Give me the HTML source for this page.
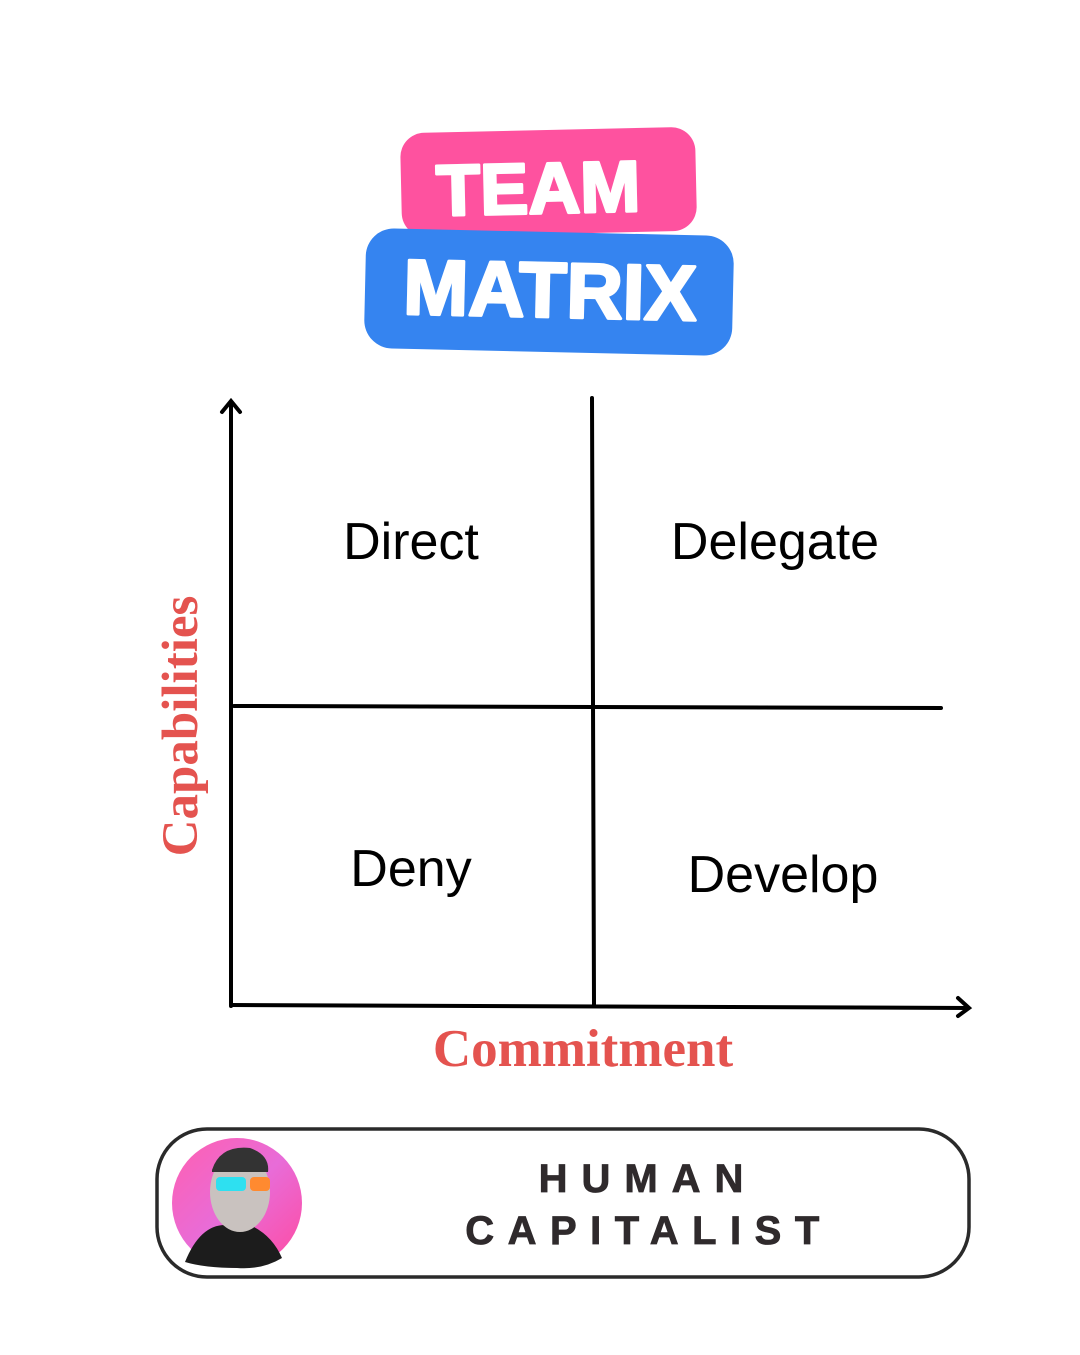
<!DOCTYPE html>
<html><head><style>html,body{margin:0;padding:0;background:#fff}</style></head><body>
<svg width="1080" height="1350" viewBox="0 0 1080 1350" xmlns="http://www.w3.org/2000/svg">
<rect width="1080" height="1350" fill="#fff"/>
<g transform="rotate(-1.3 548 180)">
<rect x="401" y="130" width="295" height="104" rx="24" fill="#fe529f"/>
<text x="538" y="213" text-anchor="middle" font-family="Liberation Sans, sans-serif" font-weight="bold" font-size="72" fill="#fff" stroke="#fff" stroke-width="3" stroke-linejoin="round">TEAM</text>
</g>
<g transform="rotate(1.3 549 292)">
<rect x="365" y="232" width="368" height="120" rx="28" fill="#3584f0"/>
<text x="550" y="317" text-anchor="middle" font-family="Liberation Sans, sans-serif" font-weight="bold" font-size="78" fill="#fff" stroke="#fff" stroke-width="3" stroke-linejoin="round">MATRIX</text>
</g>
<g stroke="#000" stroke-width="4" fill="none" stroke-linecap="round">
<line x1="231" y1="402" x2="231" y2="1006"/>
<polyline points="222,412 231,401 240,412"/>
<line x1="231" y1="1005" x2="968" y2="1008"/>
<polyline points="958,998 969,1008 958,1016"/>
<line x1="592" y1="398" x2="594" y2="1005"/>
<line x1="234" y1="706" x2="941" y2="708"/>
</g>
<g font-family="Liberation Sans, sans-serif" font-size="52" fill="#000" text-anchor="middle">
<text x="411" y="559">Direct</text>
<text x="775" y="559">Delegate</text>
<text x="411" y="886">Deny</text>
<text x="783" y="892">Develop</text>
</g>
<text x="583" y="1066" text-anchor="middle" font-family="Liberation Serif, serif" font-weight="bold" font-size="53" fill="#e4534f">Commitment</text>
<text transform="translate(197 726) rotate(-90)" text-anchor="middle" font-family="Liberation Serif, serif" font-weight="bold" font-size="51" fill="#e4534f">Capabilities</text>
<rect x="157" y="1129" width="812" height="148" rx="50" fill="#fff" stroke="#2a2a2a" stroke-width="3.5"/>
<defs><linearGradient id="bg" x1="0" y1="0" x2="1" y2="1"><stop offset="0" stop-color="#ff5fb0"/><stop offset="0.5" stop-color="#e86cd8"/><stop offset="1" stop-color="#ff4aa0"/></linearGradient></defs>
<ellipse cx="237" cy="1203" rx="65" ry="65" fill="url(#bg)"/>
<path d="M185 1262 Q200 1225 225 1225 L250 1225 Q272 1235 282 1258 Q262 1270 237 1268 Q205 1268 185 1262Z" fill="#1c1c1c"/>
<ellipse cx="240" cy="1192" rx="30" ry="40" fill="#c9c2bf"/>
<path d="M212 1170 Q220 1145 250 1148 Q270 1155 268 1172 L212 1172Z" fill="#333"/>
<rect x="216" y="1177" width="30" height="14" rx="4" fill="#2ee0f0"/>
<rect x="250" y="1177" width="20" height="14" rx="4" fill="#ff8a30"/>
<g font-family="Liberation Sans, sans-serif" font-weight="bold" fill="#2f2a2c" font-size="40" stroke="#2f2a2c" stroke-width="0.8">
<text x="648" y="1192" text-anchor="middle" letter-spacing="14">HUMAN</text>
<text x="649" y="1244" text-anchor="middle" letter-spacing="13.5">CAPITALIST</text>
</g>
</svg>
</body></html>
